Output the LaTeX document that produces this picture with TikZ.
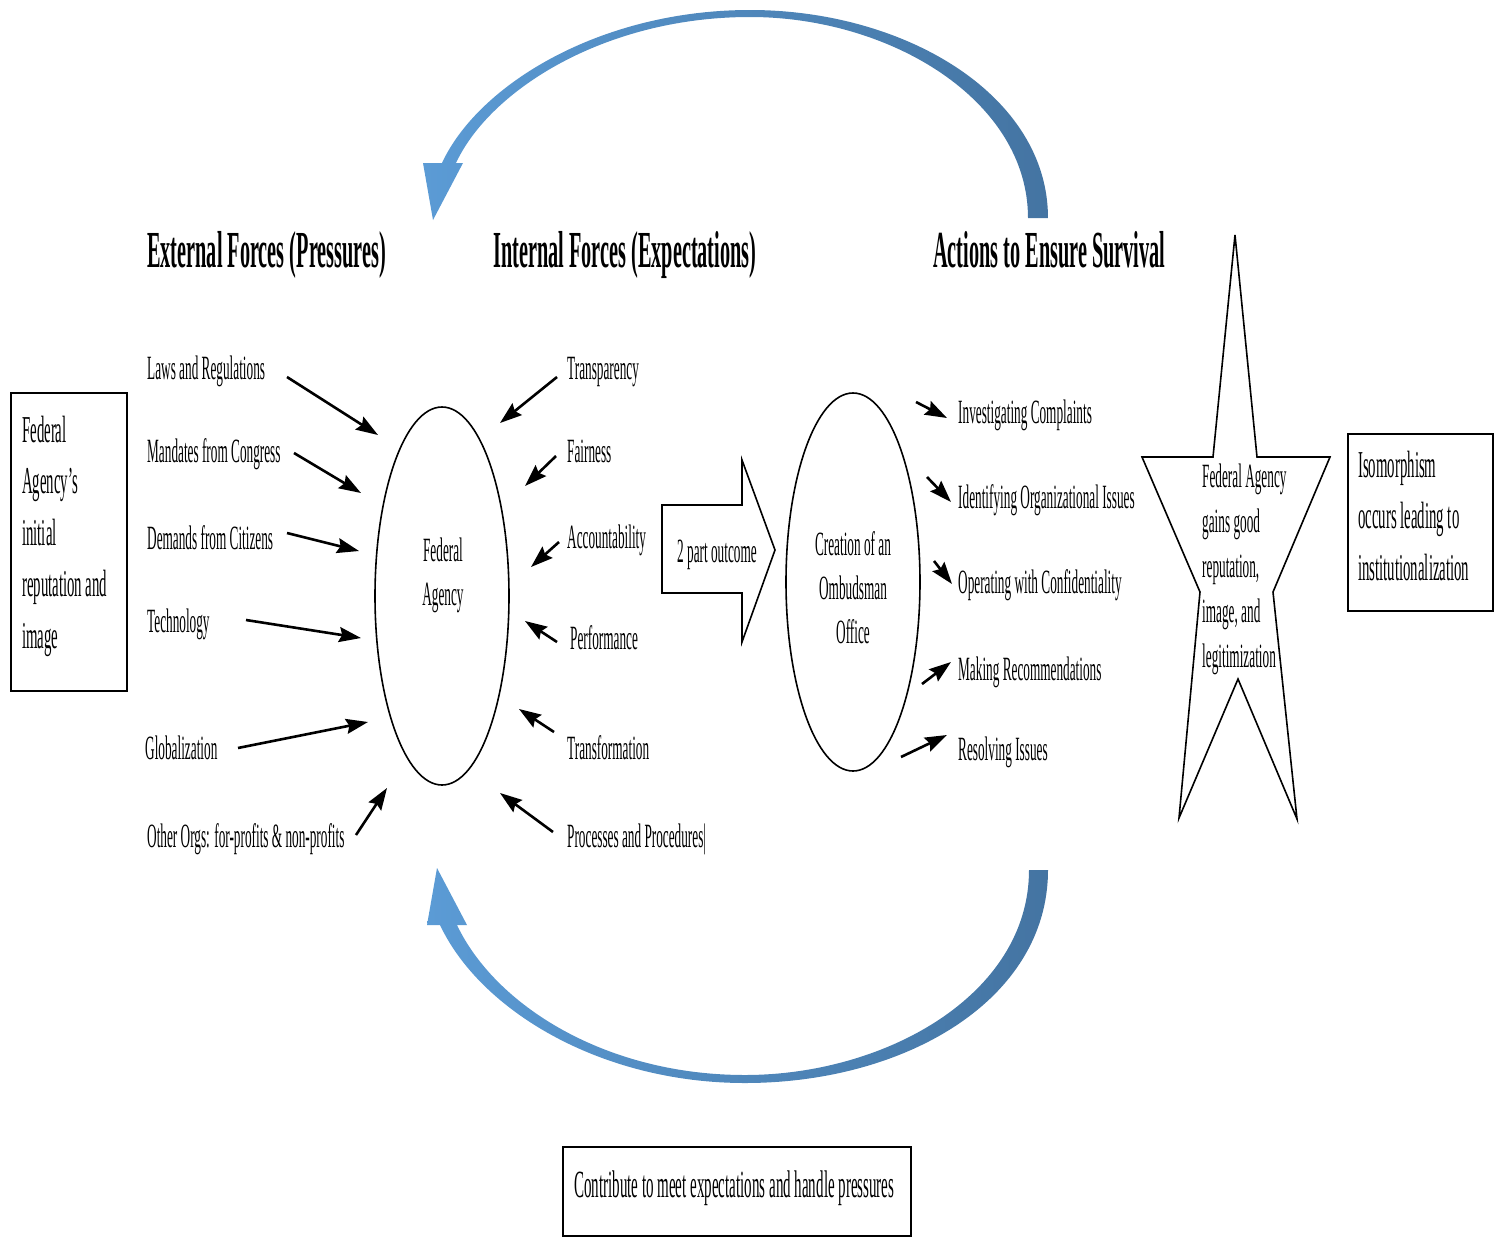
\documentclass[tikz,border=0pt]{standalone}
\usepackage{fontspec}
\setmainfont[FakeStretch=0.39]{Liberation Serif}
\usetikzlibrary{arrows.meta,shapes.geometric}
\definecolor{blueL}{RGB}{91,155,213}
\definecolor{blueD}{RGB}{68,116,162}
\begin{document}
\begin{tikzpicture}[x=1pt,y=-1pt,
  lbl/.style={anchor=base west, inner sep=0pt, font=\fontsize{34}{40}\selectfont},
  headtxt/.style={anchor=base west, inner sep=0pt, font=\fontsize{52}{60}\selectfont\bfseries},
  arr/.style={line width=2.6pt, -{Stealth[length=22pt,width=15pt,inset=3pt]}},
  oval/.style={draw, line width=1.6pt, ellipse, minimum width=134pt, minimum height=378pt, inner sep=0pt},
  framebox/.style={draw, line width=2pt, inner sep=0pt, anchor=north west},
  boxtxt/.style={anchor=base west, inner sep=0pt, align=left, font=\fontsize{38}{51.5}\selectfont},
  outline/.style={draw, line width=1.6pt, line join=miter}
]
\useasboundingbox (0,0) rectangle (1500,1237);

% top cycle arrow
\shade[left color=blueL, right color=blueD]
  (1048,218) .. controls (1048,95) and (905,10) .. (750,10)
  .. controls (600,10) and (478,85) .. (442,163) -- (423,163) -- (433,220) -- (463,163) -- (456,163)
  .. controls (490,90) and (605,17) .. (750,17)
  .. controls (890,17) and (1028,100) .. (1028,218) -- cycle;

% bottom cycle arrow
\shade[left color=blueL, right color=blueD]
  (1048,870) .. controls (1048,1000) and (905,1083) .. (745,1083)
  .. controls (600,1083) and (480,1010) .. (440,925) -- (427,925) -- (437,868) -- (467,925) -- (457,925)
  .. controls (495,1005) and (605,1075) .. (745,1075)
  .. controls (885,1075) and (1029,995) .. (1029,870) -- cycle;

% headings
\node[headtxt] (hext) at (147,267) {External Forces (Pressures)};
\node[headtxt] (hint) at (493,267) {Internal Forces (Expectations)};
\node[headtxt] (hact) at (933,267) {Actions to Ensure Survival};

% left box
\node[framebox, minimum width=116pt, minimum height=298pt] (initbox) at (10,392) {};
\node[boxtxt] (inittxt) at (22,648) {Federal\\Agency’s\\initial\\reputation and\\image};

% right box
\node[framebox, minimum width=145pt, minimum height=177pt] (isobox) at (1347,433) {};
\node[boxtxt] (isotxt) at (1358,580) {Isomorphism\\occurs leading to\\institutionalization};

% bottom box
\node[framebox, minimum width=348pt, minimum height=89pt] (contribbox) at (562,1146) {};
\node[lbl, font=\fontsize{38.5}{44}\selectfont] (contribtxt) at (574,1197) {Contribute to meet expectations and handle pressures};

% ellipses
\node[oval] (fed) at (442,596) {};
\node[anchor=center, align=center, inner sep=0pt, font=\fontsize{34}{44}\selectfont] (fedtxt) at (443,575) {Federal\\Agency};
\node[oval] (omb) at (853,582) {};
\node[anchor=center, align=center, inner sep=0pt, font=\fontsize{34}{44}\selectfont] (ombtxt) at (853,588) {Creation of an\\Ombudsman\\Office};

% big hollow arrow
\draw[outline] (662,505) -- (742,505) -- (742,460) -- (775,550) -- (742,642) -- (742,593) -- (662,593) -- cycle;
\node[lbl] (outcome) at (677,562) {2 part outcome};

% star
\draw[outline] (1235,235) -- (1257,457) -- (1330,457) -- (1273,592) -- (1297,819) -- (1238,679)
  -- (1179,818) -- (1200,592) -- (1142,457) -- (1213,457) -- cycle;
\node[boxtxt, font=\fontsize{34}{45}\selectfont] (startxt) at (1202,667) {Federal Agency\\gains good\\reputation,\\image, and\\legitimization};

% external forces
\node[lbl] (e1) at (147,379) {Laws and Regulations};
\node[lbl] (e2) at (147,462) {Mandates from Congress};
\node[lbl] (e3) at (147,549) {Demands from Citizens};
\node[lbl] (e4) at (147,632) {Technology};
\node[lbl] (e5) at (145,759) {Globalization};
\node[lbl] (e6) at (147,847) {Other Orgs: for-profits \& non-profits};

% internal forces
\node[lbl] (i1) at (567,379) {Transparency};
\node[lbl] (i2) at (567,462) {Fairness};
\node[lbl] (i3) at (567,548) {Accountability};
\node[lbl] (i4) at (570,649) {Performance};
\node[lbl] (i5) at (567,759) {Transformation};
\node[lbl] (i6) at (567,847) {Processes and Procedures|};

% actions
\node[lbl] (a1) at (958,423) {Investigating Complaints};
\node[lbl] (a2) at (958,508) {Identifying Organizational Issues};
\node[lbl] (a3) at (958,593) {Operating with Confidentiality};
\node[lbl] (a4) at (958,680) {Making Recommendations};
\node[lbl] (a5) at (958,760) {Resolving Issues};

% arrow end coordinates
\coordinate (e1s) at (287,377); \coordinate (e1t) at (378,435);
\coordinate (e2s) at (294,453); \coordinate (e2t) at (361,493);
\coordinate (e3s) at (287,533); \coordinate (e3t) at (359,551);
\coordinate (e4s) at (246,620); \coordinate (e4t) at (361,638);
\coordinate (e5s) at (238,748); \coordinate (e5t) at (368,722);
\coordinate (e6s) at (356,835); \coordinate (e6t) at (387,788);
\coordinate (i1s) at (557,377); \coordinate (i1t) at (500,423);
\coordinate (i2s) at (556,456); \coordinate (i2t) at (525,486);
\coordinate (i3s) at (559,542); \coordinate (i3t) at (531,567);
\coordinate (i4s) at (557,642); \coordinate (i4t) at (525,621);
\coordinate (i5s) at (554,732); \coordinate (i5t) at (519,709);
\coordinate (i6s) at (553,832); \coordinate (i6t) at (500,793);
\coordinate (a1s) at (916,402); \coordinate (a1t) at (947,418);
\coordinate (a2s) at (927,477); \coordinate (a2t) at (951,502);
\coordinate (a3s) at (934,561); \coordinate (a3t) at (952,584);
\coordinate (a4s) at (922,684); \coordinate (a4t) at (951,662);
\coordinate (a5s) at (901,757); \coordinate (a5t) at (947,735);

\foreach \n in {e1,e2,e3,e4,e5,e6,i1,i2,i3,i4,i5,i6,a1,a2,a3,a4,a5}
  \draw[arr] (\n s) -- (\n t);
\end{tikzpicture}
\end{document}
